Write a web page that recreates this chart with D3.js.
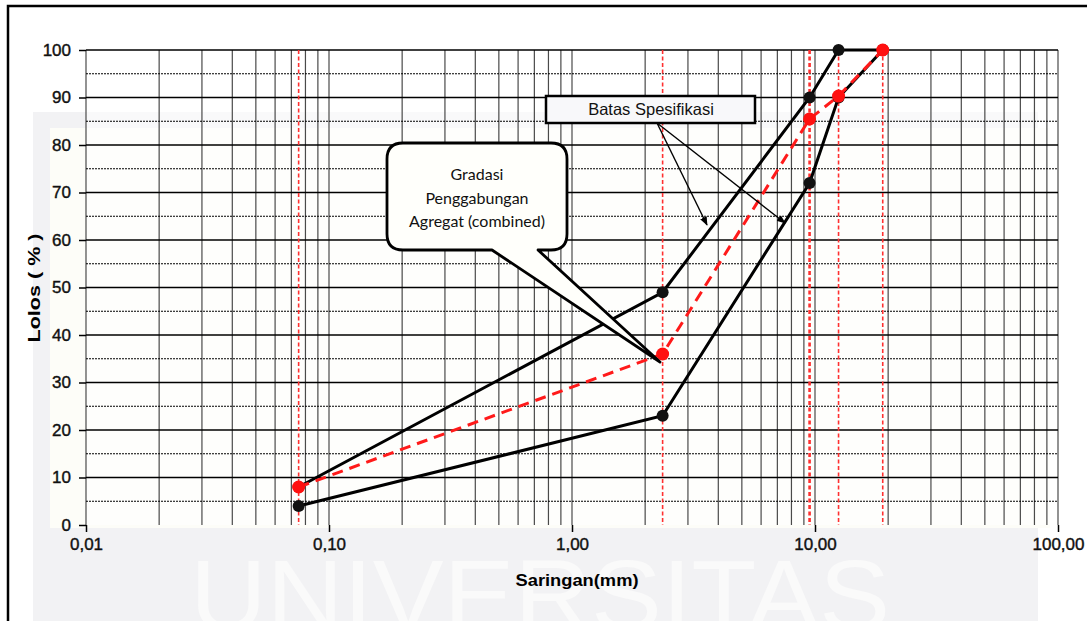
<!DOCTYPE html>
<html><head><meta charset="utf-8">
<script src="https://cdn.jsdelivr.net/npm/d3@7"></script>
<style>body{margin:0;background:#fff}svg{display:block}</style>
</head><body>
<svg id="c" width="1087" height="621"></svg>
<script>
// ---- data ----
const sieves = [0.075, 2.36, 9.5, 12.5, 19];
const upperSpec = [8, 49, 90, 100, 100];
const lowerSpec = [4, 23, 72, 90, 100];
const combined = [8, 36, 85.5, 90.3, 100];
const xTickValues = [0.01, 0.1, 1, 10, 100];
const xTickLabels = ["0,01", "0,10", "1,00", "10,00", "100,00"];
const yTickValues = [0, 10, 20, 30, 40, 50, 60, 70, 80, 90, 100];
const xTitle = "Saringan(mm)";
const yTitle = "Lolos  ( % )";
const specLabel = "Batas Spesifikasi";
const combinedLabel = ["Gradasi", "Penggabungan", "Agregat (combined)"];
const watermark = "UNIVERSITAS";

const svg = d3.select("#c");
const x = d3.scaleLog().domain([0.01, 100]).range([86, 1058]);
const y = d3.scaleLinear().domain([0, 100]).range([525, 50]);
const font = "'Liberation Sans', Arial, sans-serif";

// faint watermark background
svg.append("rect").attr("x", 33).attr("y", 112).attr("width", 1005).attr("height", 520).attr("fill", "#f2f2f4");
svg.append("rect").attr("x", 50).attr("y", 128).attr("width", 1000).attr("height", 400).attr("fill", "#fdfdf8");
svg.append("rect").attr("x", 86).attr("y", 50).attr("width", 972).attr("height", 475).attr("fill", "#fff").attr("opacity", 0.55);
svg.append("text").text(watermark).attr("x", 190).attr("y", 630)
  .attr("font-family", font).attr("font-size", 100).attr("fill", "#fafafa")
  .attr("textLength", 700).attr("lengthAdjust", "spacingAndGlyphs");

// outer frame (right and bottom edges fall outside the picture)
svg.append("rect").attr("x", 8).attr("y", 6).attr("width", 1100).attr("height", 640)
  .attr("fill", "none").attr("stroke", "#000").attr("stroke-width", 2.5);

// vertical minor/major grid
const vLines = [];
for (let e = -2; e < 2; e++) for (let m = 1; m <= 9; m++) vLines.push(m * Math.pow(10, e));
vLines.push(100);
svg.append("g").selectAll("line").data(vLines).join("line")
  .attr("x1", d => x(d)).attr("x2", d => x(d)).attr("y1", y(100)).attr("y2", y(0))
  .attr("stroke", "#4a4a4a").attr("stroke-width", 1.2);

// horizontal grid
const hMajor = yTickValues;
const hMinor = d3.range(5, 100, 10);
svg.append("g").selectAll("line").data(hMinor).join("line")
  .attr("x1", x(0.01)).attr("x2", x(100)).attr("y1", d => y(d)).attr("y2", d => y(d))
  .attr("stroke", "#000").attr("stroke-width", 1).attr("stroke-dasharray", "2,1");
svg.append("g").selectAll("line").data(hMajor.filter(d => d > 0)).join("line")
  .attr("x1", x(0.01)).attr("x2", x(100)).attr("y1", d => y(d)).attr("y2", d => y(d))
  .attr("stroke", "#000").attr("stroke-width", 1.3);

// red dotted sieve lines
svg.append("g").selectAll("line").data(sieves).join("line")
  .attr("x1", d => x(d)).attr("x2", d => x(d)).attr("y1", y(100)).attr("y2", y(0))
  .attr("stroke", "#ff3030").attr("stroke-width", (d, i) => i === 2 ? 2.6 : 1.6)
  .attr("stroke-dasharray", "4,2.5");

// axes
const yAxis = d3.axisLeft(y).tickValues(yTickValues).tickSize(7).tickPadding(8);
const gy = svg.append("g").attr("transform", `translate(${x(0.01)},0)`).call(yAxis);
gy.select(".domain").remove();
gy.selectAll(".tick line").attr("stroke", "#000").attr("stroke-width", 1.5);
gy.selectAll("text").attr("font-family", font).attr("font-size", 17).attr("fill", "#111")
  .attr("stroke", "#111").attr("stroke-width", 0.4);

const xAxis = d3.axisBottom(x).tickValues(xTickValues).tickFormat((d, i) => xTickLabels[i]).tickSize(7).tickPadding(6);
const gx = svg.append("g").attr("transform", `translate(0,${y(0)})`).call(xAxis);
gx.select(".domain").remove();
gx.selectAll(".tick line").attr("stroke", "#000").attr("stroke-width", 1.5);
gx.selectAll("text").attr("font-family", font).attr("font-size", 17).attr("fill", "#111")
  .attr("stroke", "#111").attr("stroke-width", 0.4);

// titles
svg.append("text").text(xTitle).attr("x", 577).attr("y", 586).attr("text-anchor", "middle")
  .attr("font-family", font).attr("font-weight", "bold").attr("font-size", 16)
  .attr("textLength", 123).attr("lengthAdjust", "spacingAndGlyphs");
svg.append("text").text(yTitle).attr("transform", "translate(40,288) rotate(-90)").attr("text-anchor", "middle")
  .attr("font-family", font).attr("font-weight", "bold").attr("font-size", 17)
  .attr("textLength", 109).attr("lengthAdjust", "spacingAndGlyphs");

// data lines
const line = d3.line().x(d => x(d[0])).y(d => y(d[1]));
const up = sieves.map((s, i) => [s, upperSpec[i]]);
const lo = sieves.map((s, i) => [s, lowerSpec[i]]);
const cb = sieves.map((s, i) => [s, combined[i]]);
[up, lo].forEach(p => svg.append("path").attr("d", line(p)).attr("fill", "none")
  .attr("stroke", "#000").attr("stroke-width", 3));
svg.append("path").attr("d", line(cb)).attr("fill", "none")
  .attr("stroke", "#ff1a1a").attr("stroke-width", 3).attr("stroke-dasharray", "11,7");

[up, lo].forEach(p => svg.append("g").selectAll("circle").data(p).join("circle")
  .attr("cx", d => x(d[0])).attr("cy", d => y(d[1])).attr("r", 6).attr("fill", "#111"));
svg.append("g").selectAll("circle").data(cb).join("circle")
  .attr("cx", d => x(d[0])).attr("cy", d => y(d[1])).attr("r", 6.5).attr("fill", "#ff1010");

// spec callout with arrows
const defs = svg.append("defs");
defs.append("marker").attr("id", "ah").attr("viewBox", "0 0 10 10").attr("refX", 9).attr("refY", 5)
  .attr("markerWidth", 9).attr("markerHeight", 9).attr("orient", "auto-start-reverse")
  .attr("markerUnits", "userSpaceOnUse")
  .append("path").attr("d", "M0,1 L10,5 L0,9 Z").attr("fill", "#000");
[[707, 225], [785, 223]].forEach(t => svg.append("line")
  .attr("x1", 657).attr("y1", 123).attr("x2", t[0]).attr("y2", t[1])
  .attr("stroke", "#000").attr("stroke-width", 1.4).attr("marker-end", "url(#ah)"));
svg.append("rect").attr("x", 546).attr("y", 96).attr("width", 209).attr("height", 27)
  .attr("fill", "#f8f8fa").attr("stroke", "#000").attr("stroke-width", 2.5);
svg.append("text").text(specLabel).attr("x", 651).attr("y", 114.5).attr("text-anchor", "middle")
  .attr("font-family", font).attr("font-size", 16.5).attr("fill", "#111");

// combined callout
const L = 387, R = 567, T = 143, B = 250, r = 16;
const cp = `M${L + r},${T} H${R - r} Q${R},${T} ${R},${T + r} V${B - r} Q${R},${B} ${R - r},${B} H538 L660,362 L492,${B} H${L + r} Q${L},${B} ${L},${B - r} V${T + r} Q${L},${T} ${L + r},${T} Z`;
svg.append("path").attr("d", cp).attr("fill", "#fffffb").attr("stroke", "#000").attr("stroke-width", 2.8)
  .attr("stroke-linejoin", "round");
svg.selectAll(".cl").data(combinedLabel).join("text").attr("class", "cl").text(d => d)
  .attr("x", 477).attr("y", (d, i) => 180 + i * 23.5).attr("text-anchor", "middle")
  .attr("font-family", "Lato, 'Open Sans', sans-serif").attr("font-size", 16).attr("fill", "#111");
</script>
</body></html>
